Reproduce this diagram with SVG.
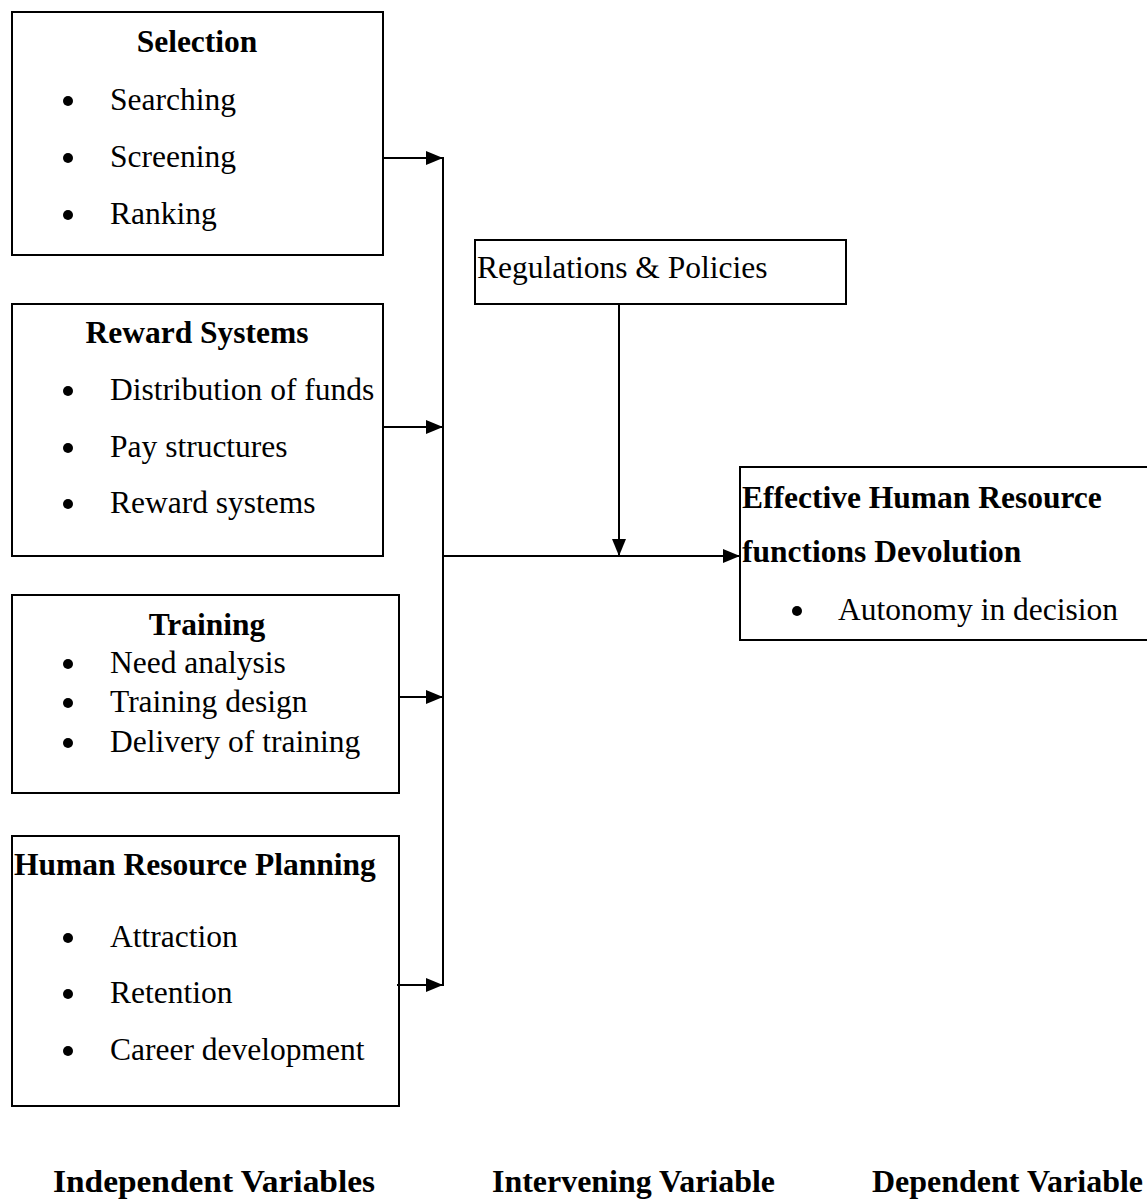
<svg xmlns="http://www.w3.org/2000/svg" width="1147" height="1202" viewBox="0 0 1147 1202">
<style>
.box{fill:#fff;stroke:#000;stroke-width:2}
.t{font-family:"Liberation Serif","Times New Roman",serif;font-size:31.5px;fill:#000}
.b{font-weight:bold}
.lbl{font-family:"Liberation Serif","Times New Roman",serif;font-size:32px;font-weight:bold;fill:#000}
.c{stroke:#000;stroke-width:2;fill:none}
.dot{fill:#000}
</style>
<defs>
<marker id="ah" markerUnits="userSpaceOnUse" markerWidth="18" markerHeight="14" refX="17" refY="7" orient="auto">
<path d="M0,0 L17,7 L0,14 z" fill="#000"/>
</marker>
</defs>
<rect width="1147" height="1202" fill="#fff"/>

<g id="selection">
<rect class="box" x="12" y="12" width="371" height="243"/>
<text class="t b" x="197" y="52" text-anchor="middle">Selection</text>
<circle class="dot" cx="68" cy="101" r="5"/><text class="t" x="110" y="110">Searching</text>
<circle class="dot" cx="68" cy="158" r="5"/><text class="t" x="110" y="167">Screening</text>
<circle class="dot" cx="68" cy="215" r="5"/><text class="t" x="110" y="224">Ranking</text>
</g>

<g id="reward">
<rect class="box" x="12" y="304" width="371" height="252"/>
<text class="t b" x="197" y="343" text-anchor="middle">Reward Systems</text>
<circle class="dot" cx="68" cy="391" r="5"/><text class="t" x="110" y="400">Distribution of funds</text>
<circle class="dot" cx="68" cy="448" r="5"/><text class="t" x="110" y="457">Pay structures</text>
<circle class="dot" cx="68" cy="504" r="5"/><text class="t" x="110" y="513">Reward systems</text>
</g>

<g id="training">
<rect class="box" x="12" y="595" width="387" height="198"/>
<text class="t b" x="207" y="635" text-anchor="middle">Training</text>
<circle class="dot" cx="68" cy="664" r="5"/><text class="t" x="110" y="673">Need analysis</text>
<circle class="dot" cx="68" cy="703" r="5"/><text class="t" x="110" y="712">Training design</text>
<circle class="dot" cx="68" cy="743" r="5"/><text class="t" x="110" y="752">Delivery of training</text>
</g>

<g id="hrp">
<rect class="box" x="12" y="836" width="387" height="270"/>
<text class="t b" x="14" y="875">Human Resource Planning</text>
<circle class="dot" cx="68" cy="938" r="5"/><text class="t" x="110" y="947">Attraction</text>
<circle class="dot" cx="68" cy="994" r="5"/><text class="t" x="110" y="1003">Retention</text>
<circle class="dot" cx="68" cy="1051" r="5"/><text class="t" x="110" y="1060">Career development</text>
</g>

<g id="regulations">
<rect class="box" x="475" y="240" width="371" height="64"/>
<text class="t" x="477" y="278">Regulations &amp; Policies</text>
</g>

<g id="effective">
<rect class="box" x="740" y="467" width="420" height="173"/>
<text class="t b" x="742" y="508">Effective Human Resource</text>
<text class="t b" x="742" y="562">functions Devolution</text>
<circle class="dot" cx="797" cy="611" r="5"/><text class="t" x="838" y="620">Autonomy in decision</text>
</g>

<g id="connectors">
<line class="c" x1="383" y1="158" x2="443" y2="158" marker-end="url(#ah)"/>
<line class="c" x1="383" y1="427" x2="443" y2="427" marker-end="url(#ah)"/>
<line class="c" x1="399" y1="697" x2="443" y2="697" marker-end="url(#ah)"/>
<line class="c" x1="397" y1="985" x2="443" y2="985" marker-end="url(#ah)"/>
<line class="c" x1="443" y1="157" x2="443" y2="986"/>
<line class="c" x1="443" y1="556" x2="740" y2="556" marker-end="url(#ah)"/>
<line class="c" x1="619" y1="304" x2="619" y2="556" marker-end="url(#ah)"/>
</g>

<g id="labels">
<text class="lbl" x="53" y="1192" textLength="322" lengthAdjust="spacingAndGlyphs">Independent Variables</text>
<text class="lbl" x="492" y="1192" textLength="283" lengthAdjust="spacingAndGlyphs">Intervening Variable</text>
<text class="lbl" x="872" y="1192" textLength="271" lengthAdjust="spacingAndGlyphs">Dependent Variable</text>
</g>
</svg>
